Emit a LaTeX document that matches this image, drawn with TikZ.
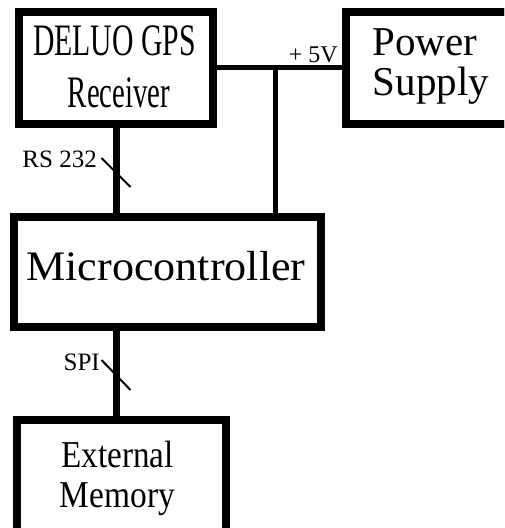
\documentclass[tikz,border=0pt]{standalone}
\usepackage{fontspec}
\setmainfont{Liberation Serif}
\usetikzlibrary{calc}

\tikzset{
  block/.style={draw=black, line width=8pt, rectangle, inner sep=0pt, outer sep=0pt, fill=white},
  label/.style={inner sep=0pt, anchor=base},
  bus/.style={line width=7pt},
  rail/.style={line width=5pt},
  tick/.style={line width=2pt},
}

\begin{document}
\begin{tikzpicture}[x=1pt, y=-1pt]
  \useasboundingbox (0,0) rectangle (504,528);
  \clip (0,0) rectangle (504,528);
  \fill[white] (0,0) rectangle (504,528);

  % connectors first, so the boxes sit on top of them
  \coordinate (rail) at (275,67.5);
  \coordinate (rsx) at (116,0);
  \coordinate (rsmid) at (116,172.5);
  \coordinate (spimid) at (116,375);

  % blocks
  \node[block, minimum width=194pt, minimum height=112pt] (gps) at (116,68) {};
  \node[block, minimum width=166pt, minimum height=112pt] (psu) at (429,68) {};
  \node[block, minimum width=307pt, minimum height=110pt] (mcu) at (167.5,272) {};
  \node[block, minimum width=209pt, minimum height=115pt] (mem) at (121,477.5) {};

  % power rail
  \draw[rail] (gps.east |- rail) -- (psu.west |- rail);
  \draw[rail] (rail) -- (rail |- mcu.north);

  % serial buses
  \draw[bus] (gps.south -| rsx) -- (mcu.north -| rsx);
  \draw[bus] (mcu.south -| rsx) -- (mem.north -| rsx);

  % bus-width ticks
  \draw[tick] ([shift={(-14.5,-14.5)}]rsmid) -- ([shift={(14.5,14.5)}]rsmid);
  \draw[tick] ([shift={(-14.5,-15)}]spimid) -- ([shift={(14.5,15)}]spimid);

  % redraw block borders over the connector ends
  \foreach \b in {gps,psu,mcu,mem}
    \draw[line width=8pt] (\b.north west) rectangle (\b.south east);

  % block texts
  \node[label] (gpsA) at (114.5,55) {\fontsize{45}{50}\selectfont\scalebox{0.66}[1]{DELUO GPS}};
  \node[label] (gpsB) at (119,107) {\fontsize{45}{50}\selectfont\scalebox{0.64}[1]{Receiver}};
  \node[label] (psuA) at (425,55) {\fontsize{41}{46}\selectfont Power};
  \node[label] (psuB) at (431,95) {\fontsize{41}{46}\selectfont Supply};
  \node[label] (mcuT) at (166,280) {\fontsize{42}{46}\selectfont\scalebox{1.05}[1]{Microcontroller}};
  \node[label] (memA) at (117.5,467) {\fontsize{38}{42}\selectfont\scalebox{0.87}[1]{External}};
  \node[label] (memB) at (117.5,507) {\fontsize{38}{42}\selectfont\scalebox{0.88}[1]{Memory}};

  % connector labels
  \node[label, anchor=base east] (rsl) at (97,167) {\fontsize{25}{28}\selectfont RS 232};
  \node[label, anchor=base east] (spil) at (100,370) {\fontsize{25}{28}\selectfont SPI};
  \node[label, anchor=base east] (vl) at (338,62) {\fontsize{24}{27}\selectfont + 5V};
\end{tikzpicture}
\end{document}
